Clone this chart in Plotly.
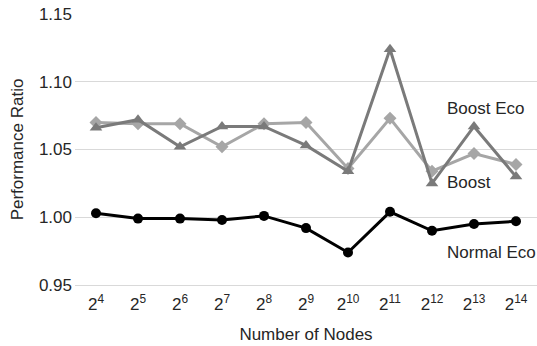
import plotly.graph_objects as go

# Node counts as powers of two
exponents = [4, 5, 6, 7, 8, 9, 10, 11, 12, 13, 14]
tick_labels = [f"2<sup>{e}</sup>" for e in exponents]

# Performance ratio per configuration
boost = [1.070, 1.069, 1.069, 1.052, 1.069, 1.070, 1.036, 1.073, 1.034, 1.047, 1.039]
boost_eco = [1.066, 1.072, 1.052, 1.067, 1.067, 1.053, 1.034, 1.124, 1.025, 1.067, 1.030]
normal_eco = [1.003, 0.999, 0.999, 0.998, 1.001, 0.992, 0.974, 1.004, 0.990, 0.995, 0.997]

FONT = "Liberation Sans, Arial, sans-serif"
TEXT = "#262626"
SIZE = 17

x = list(range(len(exponents)))

fig = go.Figure()
fig.add_trace(go.Scatter(
    x=x, y=boost, name="Boost", mode="lines+markers",
    line=dict(color="#a6a6a6", width=3),
    marker=dict(symbol="diamond", size=10, color="#a6a6a6"),
))
fig.add_trace(go.Scatter(
    x=x, y=boost_eco, name="Boost Eco", mode="lines+markers",
    line=dict(color="#7a7a7a", width=3),
    marker=dict(symbol="triangle-up", size=11, color="#7a7a7a"),
))
fig.add_trace(go.Scatter(
    x=x, y=normal_eco, name="Normal Eco", mode="lines+markers",
    line=dict(color="#000000", width=3),
    marker=dict(symbol="circle", size=10, color="#000000"),
))

# Series labels placed beside the right end of the lines
for text, yv in [("Boost Eco", 1.080), ("Boost", 1.0255), ("Normal Eco", 0.9738)]:
    fig.add_annotation(x=8.3, y=yv, text=text, showarrow=False,
                       xanchor="left", yanchor="middle",
                       font=dict(family=FONT, size=SIZE, color=TEXT))

fig.update_layout(
    width=537, height=346,
    margin=dict(l=75, r=0, t=14, b=61),
    paper_bgcolor="white", plot_bgcolor="white",
    showlegend=False,
    font=dict(family=FONT, size=SIZE, color=TEXT),
)
fig.update_xaxes(
    range=[-0.5, len(exponents) - 0.5],
    tickmode="array", tickvals=x, ticktext=tick_labels,
    showgrid=False, zeroline=False,
    showline=True, linecolor="#d9d9d9", linewidth=1,
    ticks="", ticklabelstandoff=4, tickfont=dict(size=SIZE, color=TEXT),
    title=dict(text="Number of Nodes", font=dict(size=SIZE, color=TEXT), standoff=14),
)
fig.update_yaxes(
    range=[0.95, 1.15],
    tickmode="array", tickvals=[0.95, 1.00, 1.05, 1.10, 1.15],
    ticktext=["0.95", "1.00", "1.05", "1.10", "1.15"],
    showgrid=True, gridcolor="#d9d9d9", gridwidth=1,
    zeroline=False, showline=False,
    ticks="", ticklabelstandoff=2, tickfont=dict(size=SIZE, color=TEXT),
    title=dict(text="Performance Ratio", font=dict(size=SIZE, color=TEXT), standoff=10),
)

fig.write_html("out.html")
